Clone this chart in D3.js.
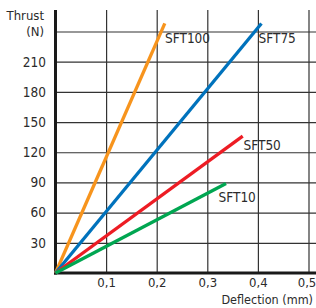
<!DOCTYPE html>
<html>
<head>
<meta charset="utf-8">
<script src="https://cdn.jsdelivr.net/npm/d3@7"></script>
<style>
  body { margin: 0; background: #fff; }
  svg text { font-family: "Liberation Sans Narrow", "DejaVu Sans Condensed", "Arial Narrow", sans-serif; fill: #2b2b2b; }
</style>
</head>
<body>
<script>
// deflection ticks (mm) and thrust ticks (N)
var xTicks = [0.1, 0.2, 0.3, 0.4, 0.5];
var yTicks = [30, 60, 90, 120, 150, 180, 210, 240];

// each spring: straight line from origin to its end point
var seriesNames = ["SFT100", "SFT75", "SFT50", "SFT10"];
var endDeflection = [0.216, 0.407, 0.370, 0.337];
var endThrust = [248, 248, 136, 89];
var seriesColors = ["#f7941d", "#0072bc", "#ed1c24", "#00a651"];

function init(){
    var w = 316;
    var h = 308;
    var left = 55.5, bottom = 273, top = 10, right = 316;

    var svg = d3.select("body")
                .append("svg")
                .attr("width", w)
                .attr("height", h);

    var xScale = d3.scaleLinear()
                    .domain([0, 0.5])
                    .range([left, 308.5]);
    var yScale = d3.scaleLinear()
                    .domain([0, 240])
                    .range([bottom, 31.5]);

    var fmt = d3.format(".1f");
    var xAxis = d3.axisBottom(xScale)
                    .tickValues(xTicks)
                    .tickSize(-(bottom - top))
                    .tickPadding(5)
                    .tickFormat(function(d){ return fmt(d).replace(".", ","); });
    var yAxis = d3.axisLeft(yScale)
                    .tickValues(yTicks)
                    .tickSize(-(right - left))
                    .tickPadding(9.5)
                    .tickFormat(function(d){ return d == 240 ? "" : d; });

    var gx = svg.append("g")
        .attr("transform", "translate(0," + bottom + ")")
        .call(xAxis);
    var gy = svg.append("g")
        .attr("transform", "translate(" + left + ",0)")
        .call(yAxis);

    [gx, gy].forEach(function(g){
        g.select(".domain").remove();
        g.selectAll(".tick line").attr("stroke", "#333").attr("stroke-width", 1.2);
        g.selectAll(".tick text").attr("font-size", 13.5).attr("fill", "#2b2b2b");
    });
    gx.selectAll(".tick text").attr("font-size", 13);
    // last x label sits at the right edge
    gx.selectAll(".tick text").filter(function(d){ return d == 0.5; }).attr("dx", -2);

    // thick axis lines
    svg.append("line")
        .attr("x1", left).attr("x2", left)
        .attr("y1", top).attr("y2", bottom + 1.5)
        .attr("stroke", "#1a1a1a").attr("stroke-width", 3);
    svg.append("line")
        .attr("x1", left - 1.5).attr("x2", right)
        .attr("y1", bottom).attr("y2", bottom)
        .attr("stroke", "#1a1a1a").attr("stroke-width", 3);

    var line = d3.line()
        .x(function(d){ return xScale(d[0]); })
        .y(function(d){ return yScale(d[1]); });

    var series = seriesNames.map(function(name, i){
        return { name: name, color: seriesColors[i], pts: [[0, 0], [endDeflection[i], endThrust[i]]] };
    });

    svg.selectAll("path.series")
        .data(series)
        .enter()
        .append("path")
        .attr("class", "series")
        .attr("d", function(d){ return line(d.pts); })
        .attr("fill", "none")
        .attr("stroke", function(d){ return d.color; })
        .attr("stroke-width", 3.3);

    // labels next to line ends
    var labelPos = [[165, 43], [258.5, 43], [243.5, 150], [218.5, 201.5]];
    svg.selectAll("text.lbl")
        .data(series)
        .enter()
        .append("text")
        .attr("class", "lbl")
        .attr("x", function(d, i){ return labelPos[i][0]; })
        .attr("y", function(d, i){ return labelPos[i][1]; })
        .attr("font-size", 13.5)
        .text(function(d){ return d.name; });

    svg.append("text")
        .attr("x", 44).attr("y", 20)
        .attr("text-anchor", "end")
        .attr("font-size", 13)
        .text("Thrust");
    svg.append("text")
        .attr("x", 44).attr("y", 36)
        .attr("text-anchor", "end")
        .attr("font-size", 13)
        .text("(N)");
    svg.append("text")
        .attr("x", 313).attr("y", 304)
        .attr("text-anchor", "end")
        .attr("font-size", 12.5)
        .text("Deflection (mm)");
}
window.onload = init;
</script>
</body>
</html>
